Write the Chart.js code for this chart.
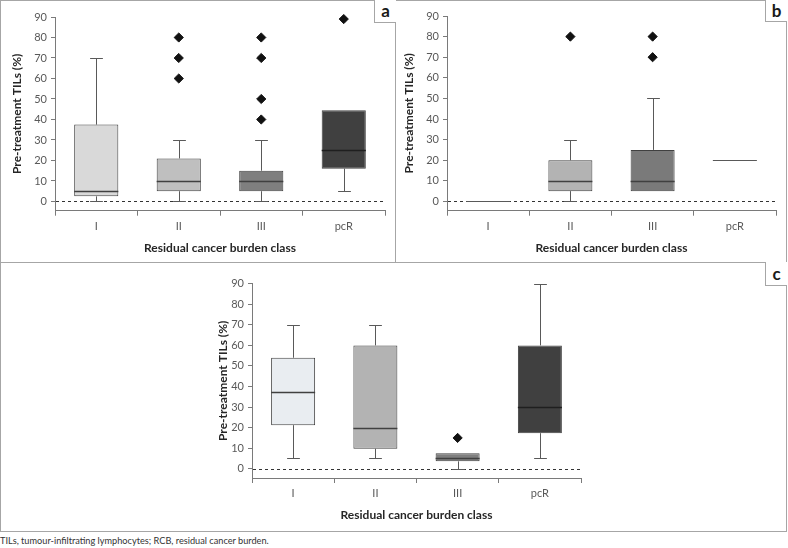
<!DOCTYPE html>
<html><head><meta charset="utf-8">
<script src="https://cdn.jsdelivr.net/npm/chart.js@4.4.1/dist/chart.umd.min.js"></script>
<style>
body{margin:0;width:788px;height:548px;background:#fff;position:relative;overflow:hidden;font-family:Lato,sans-serif}
.l{position:absolute;background:#a6a6a6;z-index:2}
.lab{position:absolute;border-left:1px solid #a6a6a6;border-bottom:1px solid #a6a6a6;font:bold 17px Lato,sans-serif;color:#1a1a1a;text-align:center;background:#fff;z-index:3;box-sizing:border-box}
canvas{position:absolute}
#foot{position:absolute;left:0;top:535px;font:9.2px Lato,sans-serif;color:#333;white-space:nowrap}
</style></head><body>
<canvas id="ca" width="395" height="262" style="left:0;top:0"></canvas>
<canvas id="cb" width="390" height="262" style="left:396px;top:0"></canvas>
<canvas id="cc" width="401" height="268" style="left:190px;top:263px"></canvas>
<div class="l" style="left:0;top:0;width:787px;height:1px"></div>
<div class="l" style="left:0;top:0;width:1px;height:532px"></div>
<div class="l" style="left:786px;top:0;width:1px;height:532px"></div>
<div class="l" style="left:0;top:531px;width:787px;height:1px"></div>
<div class="l" style="left:395px;top:0;width:1px;height:262px"></div>
<div class="l" style="left:0;top:262px;width:787px;height:1px"></div>
<div class="lab" style="left:374px;top:0;width:22px;height:23px;line-height:22px">a</div>
<div class="lab" style="left:765px;top:0;width:22px;height:22px;line-height:21px">b</div>
<div class="lab" style="left:765px;top:262px;width:22px;height:24px;line-height:23px">c</div>
<div id="foot">TILs, tumour-infiltrating lymphocytes; RCB, residual cancer burden.</div>
<script>
const categories = ['I', 'II', 'III', 'pcR'];
const yTicks = [0, 10, 20, 30, 40, 50, 60, 70, 80, 90];

// Panel a
const aLow = [0, 0, 0, 5];
const aQ1 = [2.5, 5, 5, 16];
const aMedian = [5, 10, 10, 25];
const aQ3 = [37.5, 21, 15, 44.5];
const aHigh = [70, 30, 30, 44.5];
const aOutliers = [[], [60, 70, 80], [40, 50, 70, 80], [89]];
const aColors = ['#d9d9d9', '#bfbfbf', '#7f7f7f', '#404040'];

// Panel b
const bLow = [0, 0, 5, 20];
const bQ1 = [0, 5, 5, 20];
const bMedian = [0, 10, 10, 20];
const bQ3 = [0, 20, 25, 20];
const bHigh = [0, 30, 50, 20];
const bOutliers = [[], [80], [70, 80], []];
const bColors = ['rgba(0,0,0,0)', '#b3b3b3', '#7a7a7a', 'rgba(0,0,0,0)'];

// Panel c
const cLow = [5, 5, 0, 5];
const cQ1 = [21.2, 9.7, 3.6, 17.3];
const cMedian = [37.2, 20, 5, 30];
const cQ3 = [54, 60, 7.5, 60];
const cHigh = [70, 70, 7.5, 90];
const cOutliers = [[], [], [15], []];
const cColors = ['#e9edf1', '#b3b3b3', '#7f7f7f', '#404040'];

function crisp(v){ return Math.round(v) + 0.5; }

function boxPlugin(d){
  return {
    id: 'boxplot',
    beforeDatasetsDraw(chart){
      const {ctx, chartArea, scales:{y}} = chart;
      const y0 = crisp(y.getPixelForValue(0));
      ctx.save();
      ctx.strokeStyle = '#333'; ctx.lineWidth = 1; ctx.setLineDash([3, 3]);
      ctx.beginPath(); ctx.moveTo(chartArea.left + 1, y0); ctx.lineTo(chartArea.right, y0); ctx.stroke();
      ctx.setLineDash([]);
      const meta = chart.getDatasetMeta(0);
      meta.data.forEach((bar, i) => {
        const {x, width} = bar.getProps(['x', 'width'], true);
        const cx = crisp(x);
        const capW = width * 0.29;
        ctx.strokeStyle = '#595959'; ctx.lineWidth = 1;
        [[d.q3[i], d.high[i]], [d.q1[i], d.low[i]]].forEach(([from, to]) => {
          if (from === to) return;
          const p1 = y.getPixelForValue(from), p2 = crisp(y.getPixelForValue(to));
          ctx.beginPath(); ctx.moveTo(cx, p1); ctx.lineTo(cx, p2); ctx.stroke();
          ctx.beginPath(); ctx.moveTo(cx - capW / 2, p2); ctx.lineTo(cx + capW / 2, p2); ctx.stroke();
        });
      });
      ctx.restore();
    },
    afterDatasetsDraw(chart){
      const {ctx, scales:{y}} = chart;
      const meta = chart.getDatasetMeta(0);
      ctx.save();
      meta.data.forEach((bar, i) => {
        const {x, width} = bar.getProps(['x', 'width'], true);
        const py = crisp(y.getPixelForValue(d.med[i]));
        const flat = d.q1[i] === d.q3[i];
        ctx.strokeStyle = flat ? '#595959' : (d.colors[i] === '#404040' ? '#1f1f1f' : '#404040');
        ctx.lineWidth = flat ? 1 : 1.5;
        ctx.beginPath(); ctx.moveTo(x - width / 2, py); ctx.lineTo(x + width / 2, py); ctx.stroke();
      });
      ctx.restore();
    }
  };
}

function makeChart(id, d){
  const boxData = categories.map((c, i) => [d.q1[i], d.q3[i]]);
  const outPts = [];
  d.out.forEach((arr, i) => arr.forEach(v => outPts.push({x: categories[i], y: v})));
  const tickFont = {family: 'Lato', size: 11};
  const titleFont = {family: 'Lato', size: 12, weight: 'bold'};
  return new Chart(document.getElementById(id), {
    type: 'bar',
    data: {
      labels: categories,
      datasets: [
        {type: 'bar', data: boxData, backgroundColor: d.colors, borderColor: '#404040',
         borderWidth: ctx => (d.q1[ctx.dataIndex] === d.q3[ctx.dataIndex] ? 0 : 1),
         borderSkipped: false, barPercentage: 0.535, categoryPercentage: 1, order: 2},
        {type: 'line', data: outPts, showLine: false, clip: false, pointStyle: 'rectRot', pointRadius: 4.6,
         pointBackgroundColor: '#111', pointBorderColor: '#111', pointBorderWidth: 1, order: 1}
      ]
    },
    options: {
      responsive: false, animation: false, devicePixelRatio: 1, events: [],
      layout: {padding: {left: 0, top: d.top, right: d.right, bottom: 0}},
      plugins: {legend: {display: false}, tooltip: {enabled: false}},
      scales: {
        x: {
          type: 'category', offset: true,
          grid: {offset: true, drawOnChartArea: false, tickLength: 5, color: '#7a7a7a'},
          border: {color: '#7a7a7a'},
          ticks: {color: '#595959', font: tickFont, padding: 4},
          title: {display: true, text: 'Residual cancer burden class', color: '#262626', font: titleFont,
                  padding: {top: 0, bottom: d.xTitlePad}},
          afterFit(axis){ axis.height = d.xAxisH; }
        },
        y: {
          min: -4.5, max: 90,
          ticks: {stepSize: 10, color: '#595959', font: tickFont, padding: 4},
          afterBuildTicks(axis){ axis.ticks = yTicks.map(v => ({value: v})); },
          grid: {drawOnChartArea: false, tickLength: 4, color: '#7a7a7a'},
          border: {color: '#7a7a7a'},
          title: {display: true, text: 'Pre-treatment TILs (%)', color: '#262626', font: titleFont,
                  padding: {top: d.yTitlePad, bottom: 0}},
          afterFit(axis){ axis.width = d.yAxisW; }
        }
      }
    },
    plugins: [boxPlugin(d)]
  });
}

makeChart('ca', {low: aLow, q1: aQ1, med: aMedian, q3: aQ3, high: aHigh, out: aOutliers, colors: aColors,
  top: 17, right: 10, xAxisH: 51.3, yAxisW: 55, xTitlePad: 6.8, yTitlePad: 10});
makeChart('cb', {low: bLow, q1: bQ1, med: bMedian, q3: bQ3, high: bHigh, out: bOutliers, colors: bColors,
  top: 16, right: 10, xAxisH: 51.3, yAxisW: 51, xTitlePad: 6.5, yTitlePad: 6});
makeChart('cc', {low: cLow, q1: cQ1, med: cMedian, q3: cQ3, high: cHigh, out: cOutliers, colors: cColors,
  top: 20.7, right: 10, xAxisH: 53, yAxisW: 62, xTitlePad: 8.8, yTitlePad: 26});
</script>
</body></html>
